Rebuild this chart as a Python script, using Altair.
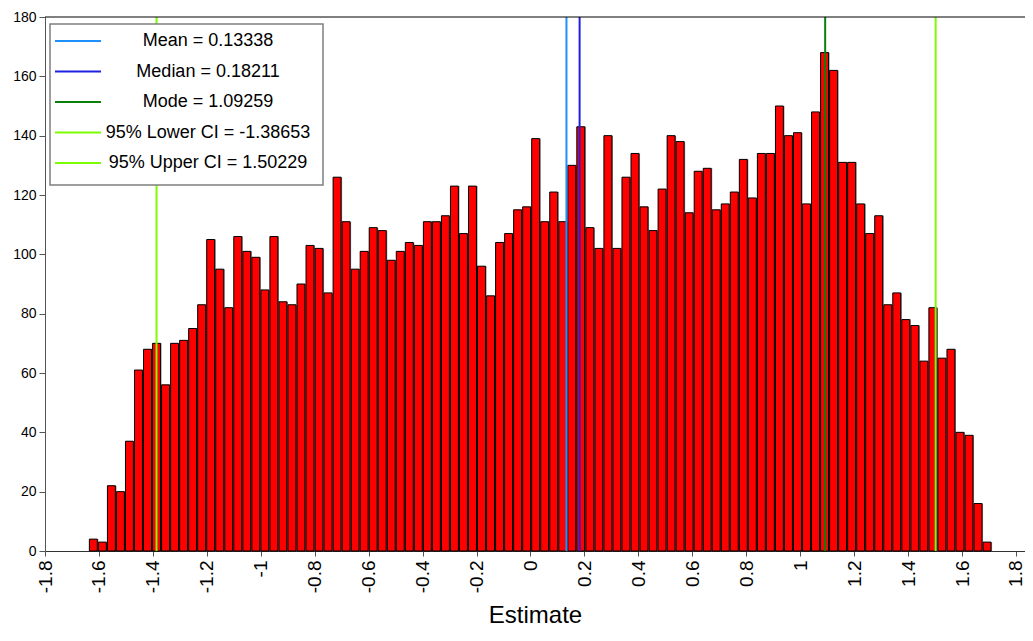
import altair as alt
import pandas as pd

# ---- data ----
counts = [4, 3, 22, 20, 37, 61, 68, 70, 56, 70,
          71, 75, 83, 105, 95, 82, 106, 101, 99, 88,
          106, 84, 83, 90, 103, 102, 87, 126, 111, 95,
          101, 109, 108, 98, 101, 104, 103, 111, 111, 113,
          123, 107, 123, 96, 86, 104, 107, 115, 116, 139,
          111, 121, 111, 130, 143, 109, 102, 140, 102, 126,
          134, 116, 108, 122, 140, 138, 114, 128, 129, 115,
          117, 121, 132, 119, 134, 134, 150, 140, 141, 117,
          148, 168, 162, 131, 131, 117, 107, 113, 83, 87,
          78, 76, 64, 82, 65, 68, 40, 39, 16, 3]
bin_start = -1.6355
bin_width = 0.03347

stat_names = ["Mean", "Median", "Mode", "95% Lower CI", "95% Upper CI"]
stat_values = [0.13338, 0.18211, 1.09259, -1.38653, 1.50229]

x_ticks = [-1.8, -1.6, -1.4, -1.2, -1.0, -0.8, -0.6, -0.4, -0.2, 0,
           0.2, 0.4, 0.6, 0.8, 1.0, 1.2, 1.4, 1.6, 1.8]
y_ticks = list(range(0, 181, 10))

# ---- styles ----
stat_colors = ["#1e90ff", "#2020e0", "#0a800a", "#7cfc00", "#7cfc00"]
FONT = "Liberation Sans"
W, H = 980, 534

hist = pd.DataFrame({"count": counts})
hist["start"] = [bin_start + i * bin_width for i in range(len(counts))]
hist["end"] = hist["start"] + bin_width
hist["bar_end"] = hist["start"] + bin_width * 0.88

stats = pd.DataFrame({"name": stat_names, "value": stat_values})
stats["label"] = [f"{n} = {v:.5f}" for n, v in zip(stat_names, stat_values)]
stats["idx"] = list(range(len(stat_names)))

xscale = alt.Scale(domain=[-1.8, 1.8335], nice=False, zero=False)
yscale = alt.Scale(domain=[0, 180], nice=False)

xaxis = alt.Axis(values=x_ticks, labelExpr="'' + datum.value", labelAngle=270,
                 labelFontSize=19, labelFont=FONT, labelColor="#000",
                 tickSize=5, tickColor="#555", domainColor="#333",
                 grid=False, title="Estimate", titleFontSize=24, titleFont=FONT,
                 titleFontWeight="normal", titleColor="#000",
                 titleY=71, titleBaseline="alphabetic",
                 labelPadding=4, labelOverlap=False, labelFlush=False)
yaxis = alt.Axis(values=y_ticks, labelFontSize=14, labelFont=FONT, labelColor="#000",
                 tickSize=6, tickColor="#555", domainColor="#555", grid=False,
                 title=None, labelPadding=3)

shadow = alt.Chart(hist).mark_rect(color="#8a8a8a").encode(
    x=alt.X("start:Q", scale=xscale, axis=xaxis),
    x2="end:Q",
    y=alt.Y("count:Q", scale=yscale, axis=yaxis),
    y2=alt.datum(0),
)

bars = alt.Chart(hist).mark_rect(fill="#ff0000", stroke="#000000", strokeWidth=1).encode(
    x=alt.X("start:Q", scale=xscale),
    x2="bar_end:Q",
    y=alt.Y("count:Q", scale=yscale),
    y2=alt.datum(0),
)

color_scale = alt.Scale(domain=stat_names, range=stat_colors)

vlines = alt.Chart(stats).mark_rule(strokeWidth=2).encode(
    x=alt.X("value:Q", scale=xscale),
    color=alt.Color("name:N", scale=color_scale, legend=None),
)

one = pd.DataFrame({"a": [0]})
top_border = alt.Chart(one).mark_rule(color="#000", strokeWidth=1).encode(
    x=alt.value(0), x2=alt.value(W), y=alt.value(0)
)

legend_box = alt.Chart(one).mark_rect(fill="#ffffff", stroke="#7f7f7f", strokeWidth=1.5).encode(
    x=alt.value(5), x2=alt.value(278), y=alt.value(7), y2=alt.value(168)
)

leg_base = alt.Chart(stats).transform_calculate(ly="24 + 30.5 * datum.idx")

leg_lines = leg_base.mark_rule(strokeWidth=2).encode(
    x=alt.value(10), x2=alt.value(56),
    y=alt.Y("ly:Q", scale=None, axis=None),
    color=alt.Color("name:N", scale=color_scale, legend=None),
)

leg_text = leg_base.mark_text(font=FONT, fontSize=18, align="center", baseline="middle",
                              color="#000").encode(
    x=alt.value(163),
    y=alt.Y("ly:Q", scale=None, axis=None),
    text="label:N",
)

chart = alt.layer(shadow, bars, vlines, top_border, legend_box, leg_lines, leg_text).properties(
    width=W, height=H,
    autosize=alt.AutoSizeParams(type="none"),
    padding={"left": 37, "top": 9, "right": 0, "bottom": 77},
).configure_view(strokeWidth=0)

chart.save("out.html", embed_options={"renderer": "svg", "actions": False})
